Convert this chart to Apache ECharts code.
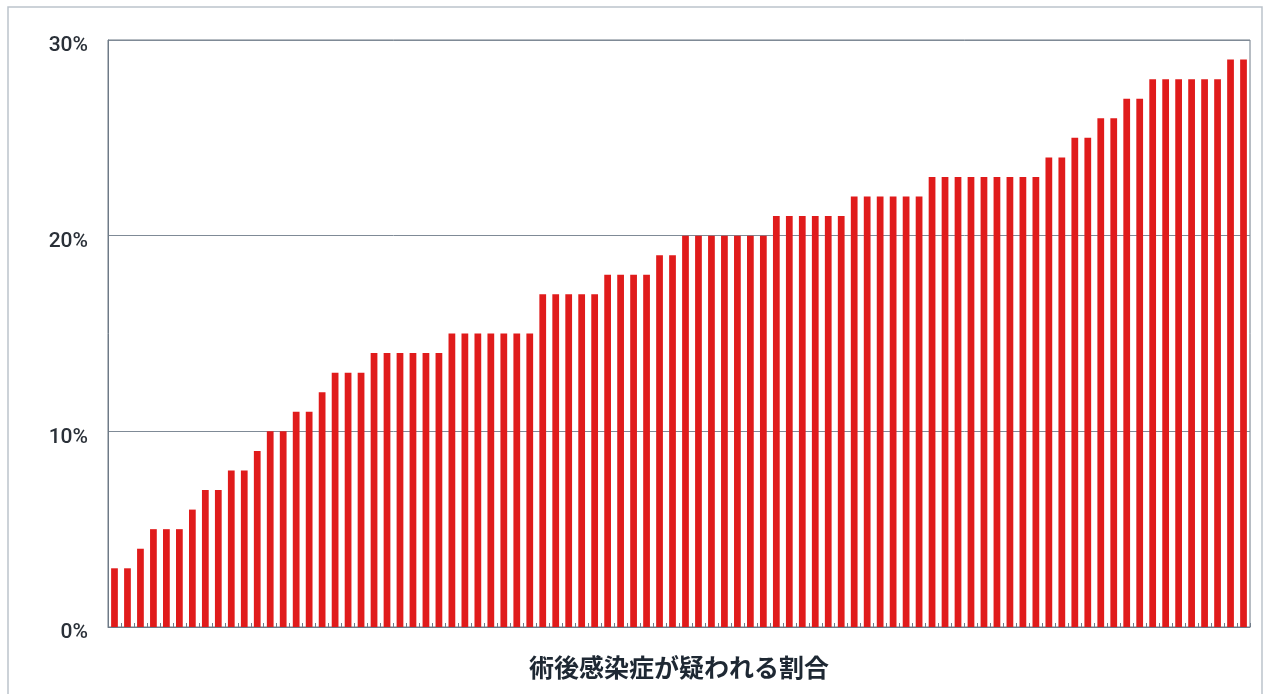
<!DOCTYPE html>
<html>
<head>
<meta charset="utf-8">
<script src="https://cdn.jsdelivr.net/npm/echarts@6/dist/echarts.min.js"></script>
<style>
  html, body { margin: 0; padding: 0; background: #fff; }
  #chart { width: 1267px; height: 694px; }
</style>
</head>
<body>
<div id="chart"></div>
<script>
// 各施設の割合 (%) — 昇順
const values = [
  3, 3, 4, 5, 5, 5, 6, 7, 7, 8, 8, 9, 10, 10, 11, 11, 12, 13, 13, 13,
  14, 14, 14, 14, 14, 14, 15, 15, 15, 15, 15, 15, 15,
  17, 17, 17, 17, 17, 18, 18, 18, 18, 19, 19,
  20, 20, 20, 20, 20, 20, 20, 21, 21, 21, 21, 21, 21,
  22, 22, 22, 22, 22, 22, 23, 23, 23, 23, 23, 23, 23, 23, 23,
  24, 24, 25, 25, 26, 26, 27, 27, 28, 28, 28, 28, 28, 28, 29, 29
];
const categories = values.map((_, i) => String(i + 1));
const axisTitle = "術後感染症が疑われる割合";

const AXIS_COLOR = "#6e7a87";
const chart = echarts.init(document.getElementById("chart"));

chart.setOption({
  animation: false,
  backgroundColor: "#fff",
  graphic: [
    {
      type: "rect",
      shape: { x: 8, y: 7, width: 1254, height: 720 },
      style: { fill: "none", stroke: "#bcc3cb", lineWidth: 1.5 },
      silent: true,
    },
  ],
  grid: {
    left: 108, right: 17, top: 40, bottom: 67,
    show: true, borderColor: AXIS_COLOR, borderWidth: 1,
  },
  xAxis: {
    type: "category",
    data: categories,
    name: axisTitle,
    nameLocation: "middle",
    nameGap: 28,
    nameTextStyle: {
      fontSize: 25, color: "#1e2833", fontWeight: "bold",
      fontFamily: "'Noto Sans CJK JP', sans-serif",
    },
    axisLine: { lineStyle: { color: AXIS_COLOR } },
    axisTick: { show: true, inside: true, length: 4, interval: 0, lineStyle: { color: AXIS_COLOR } },
    axisLabel: { show: false },
  },
  yAxis: {
    type: "value",
    min: 0, max: 30, interval: 10,
    axisLine: { show: true, lineStyle: { color: AXIS_COLOR } },
    axisTick: { show: false },
    axisLabel: {
      formatter: "{value}%",
      margin: 20,
      fontSize: 21,
      fontWeight: 500,
      color: "#2a3038",
      fontFamily: "Roboto, sans-serif",
      lineHeight: 26,
      verticalAlign: "top",
      padding: [-7, 0, 0, 0],
    },
    splitLine: { lineStyle: { color: "#7f8a96", width: 1 } },
  },
  series: [
    {
      type: "bar",
      data: values,
      barCategoryGap: "48%",
      itemStyle: { color: "#e01b1b" },
    },
  ],
});
</script>
</body>
</html>
